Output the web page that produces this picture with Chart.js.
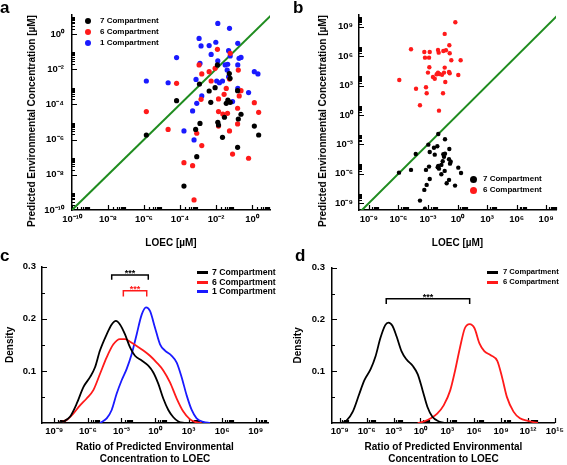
<!DOCTYPE html>
<html>
<head>
<meta charset="utf-8">
<script src="https://cdn.jsdelivr.net/npm/chart.js@4.4.1/dist/chart.umd.min.js"></script>
<style>
  body { margin: 0; background: #fff; font-family: "Liberation Sans", Arial, sans-serif; }
  #fig { position: relative; width: 567px; height: 465px; overflow: hidden; }
  #fig canvas { position: absolute; }
  .txt { position: absolute; font-weight: bold; white-space: nowrap; color: #000; line-height: 1; }
  .letter { font-size: 17px; }
  .ytitle { font-size: 10px; transform: translate(-50%, -50%) rotate(-90deg); }
  .mark { position: absolute; }
</style>
</head>
<body>
<div id="fig">
  <canvas id="cA" width="280" height="255" style="left:0;top:0"></canvas>
  <canvas id="cB" width="287" height="255" style="left:280px;top:0"></canvas>
  <canvas id="cC" width="280" height="210" style="left:0;top:255px"></canvas>
  <canvas id="cD" width="287" height="210" style="left:280px;top:255px"></canvas>

  <div class="txt letter" style="left:0;top:-1px">a</div>
  <div class="txt letter" style="left:293px;top:-1px">b</div>
  <div class="txt letter" style="left:0;top:247px">c</div>
  <div class="txt letter" style="left:295px;top:247px">d</div>

  <div class="txt ytitle" style="left:32px;top:121px">Predicted Environmental Concentration [µM]</div>
  <div class="txt ytitle" style="left:323px;top:121px">Predicted Environmental Concentration [µM]</div>
</div>

<script>
// ---- data (log10 values) ----
// panel a: LOEC vs predicted concentration
const a7X = [-5.87,-4.19,-2.92,-1.92,-1.26,-1.22,-2.38,-2.05,-2.29,-1.34,-1.43,-1.21,-0.8,-2.89,-3.13,-1.9,-1.86,-1.53,-0.76,-0.61,-1.64,-0.8,0.13,0.37,-3.07,-3.78];
const a7Y = [-5.74,-3.79,-2.84,-1.76,-2.25,-2.52,-3.24,-3.05,-3.88,-3.75,-3.94,-3.88,-3.22,-5.08,-5.42,-5.02,-5.17,-4.73,-4.83,-4.56,-5.87,-6.44,-5.23,-5.74,-6.97,-8.64];
const a6X = [-5.87,-4.66,-4.19,-3.78,-3.3,-3.22,-3.07,-2.79,-2.94,-2.79,-2.38,-2.83,-2.27,-2.05,-1.92,-1.86,-1.86,-1.86,-1.62,-1.36,-1.55,-1.43,-1.25,-1.21,-1.25,-1.08,-0.8,-0.8,-0.76,-0.71,-0.61,-0.19,0.13,0.37];
const a6Y = [-4.41,-5.42,-2.8,-7.31,-7.48,-9.43,-5.64,-6.34,-1.76,-2.27,-2.14,-3.71,-2.67,-1.95,-0.87,-3.69,-4.41,-5.23,-4.55,-4.51,-3.43,-3.09,-2.56,-1.1,-5.51,-6.82,-4.22,-5.11,-2.05,-3.52,-3.22,-7.06,-3.9,-4.45];
const a1X = [-5.87,-4.66,-4.19,-3.78,-3.3,-3.22,-3.11,-3.07,-2.94,-2.83,-2.89,-2.79,-2.38,-2.27,-2.01,-1.9,-1.9,-1.96,-1.81,-1.64,-1.49,-1.35,-1.38,-1.3,-1.25,-1.21,-1.3,-1.08,-0.79,-0.79,-0.79,-0.72,-0.61,-0.19,0.13,0.33];
const a1Y = [-2.67,-2.77,-1.34,-5.51,-4.37,-6.02,-2.58,-3.94,-0.25,-0.68,-1.67,-3.52,-0.66,-1.16,-0.47,0.6,-1.53,-2.67,-2.77,-2.67,-1.76,-1.72,-2.05,-0.95,0.32,-1.25,-2.43,-3.84,-0.53,-1.76,-3.09,-1.38,-1.33,-3.33,-2.14,-2.27];

// panel b
const b7X = [-1.95,-1.27,-2.96,-2.39,-2.05,-2.82,-2.31,-4.24,-0.83,-1.44,-1.27,-1.37,-0.86,-0.69,-0.76,-1.5,-1.64,-1.95,-1.88,-2.01,-2.89,-3.2,0.08,0.36,-4.72,-5.94,-1.3,-1.64,-2.82,-0.86,-1.1,-0.25,-3.13,-3.37,-3.81,-3.3];
const b7Y = [-1.94,-2.48,-3.03,-3.34,-3.19,-3.78,-4.05,-3.98,-3.47,-4.01,-3.95,-4.26,-4.52,-4.77,-4.97,-4.72,-5.1,-5.2,-5.48,-5.34,-5.27,-5.61,-5.38,-5.92,-5.61,-5.89,-5.71,-6.05,-6.53,-6.63,-6.97,-7.21,-7.14,-7.65,-8.74,-9.56];
const b6X = [-0.22,-1.3,-0.83,-4.72,-3.37,-2.82,-1.98,-1.91,-1.44,-1.17,-0.79,-3.3,-2.89,-0.63,0.32,-2.86,-1.3,-3.0,-1.98,-1.85,-2.11,-1.37,-0.86,-0.79,-1.57,0.08,-2.49,-2.31,-1.24,-5.91,-4.21,-3.2,-3.13,-1.47,-3.81,-1.88];
const b6Y = [9.46,8.27,7.11,6.7,6.43,6.43,6.63,6.36,6.53,6.6,6.3,5.85,5.85,5.58,5.58,4.87,4.83,4.32,4.32,4.18,4.15,4.32,4.39,4.26,4.11,4.08,3.88,3.7,3.37,3.57,2.68,2.83,2.21,2.21,0.99,0.44];

// 1:1 reference line
const diagLog = [-11, 11];

// panel c: density of log ratio
const c7X = [-8.79,-8.19,-7.6,-7.0,-6.4,-5.81,-5.36,-4.92,-4.32,-3.87,-3.49,-3.13,-2.68,-2.23,-1.79,-1.19,-0.6,-0.15,0.3,0.74,1.19,1.64,2.09,2.68];
const c7Y = [0,0.003,0.012,0.037,0.069,0.088,0.107,0.139,0.17,0.189,0.196,0.189,0.17,0.145,0.129,0.12,0.11,0.097,0.075,0.047,0.025,0.011,0.003,0];
const c6X = [-8.64,-7.89,-7.3,-6.7,-6.11,-5.51,-4.92,-4.32,-3.72,-3.13,-2.68,-2.23,-1.64,-1.04,-0.45,0.15,0.74,1.34,1.94,2.53,3.13,3.72,4.17];
const c6Y = [0,0.006,0.018,0.034,0.047,0.063,0.094,0.126,0.151,0.161,0.161,0.156,0.148,0.139,0.129,0.116,0.101,0.078,0.047,0.022,0.007,0.001,0];
const c1X = [-4.92,-4.32,-3.87,-3.43,-2.98,-2.53,-2.09,-1.64,-1.19,-0.8,-0.45,0,0.45,0.89,1.49,1.94,2.38,2.83,3.28,3.72,4.32,4.92];
const c1Y = [0,0.009,0.025,0.056,0.082,0.104,0.132,0.17,0.208,0.222,0.215,0.183,0.151,0.139,0.129,0.116,0.088,0.053,0.025,0.009,0.002,0];
const cBr7X = [-3.87,-3.87,-0.6,-0.6],  cBr7Y = [0.275,0.284,0.284,0.275];
const cBr6X = [-2.83,-2.83,-0.74,-0.74], cBr6Y = [0.243,0.254,0.254,0.243];

// panel d
const d7X = [-8.82,-8.28,-7.55,-6.83,-6.28,-5.56,-5.01,-4.47,-3.93,-3.57,-3.13,-2.66,-2.12,-1.57,-0.85,-0.3,0.24,0.78,1.33,2.05,2.77];
const d7Y = [0,0.004,0.022,0.056,0.082,0.104,0.129,0.164,0.189,0.194,0.188,0.167,0.139,0.123,0.11,0.094,0.063,0.031,0.012,0.003,0];
const d6X = [-0.3,0.42,1.15,1.87,2.59,3.32,3.86,4.4,4.95,5.49,6.03,6.58,7.12,7.84,8.57,9.11,9.65,10.38,11.1,12.0,13.1];
const d6Y = [0,0.003,0.009,0.018,0.034,0.063,0.101,0.145,0.183,0.191,0.183,0.154,0.139,0.131,0.12,0.088,0.05,0.022,0.009,0.004,0];
const dBrX = [-3.82,-3.82,5.49,5.49], dBrY = [0.23,0.24,0.24,0.23];

// tick labels (exponents) and legend labels
const aTickExp = [-10,-8,-6,-4,-2,0];
const bTickExp = [-9,-6,-3,0,3,6,9];
const cTickExp = [-9,-6,-3,0,3,6,9];
const dTickExp = [-9,-6,-3,0,3,6,9,12,15];
const densTicks = [0.1,0.2,0.3];
const densMinor = [0.05,0.15,0.25];
const names3 = ['7 Compartment','6 Compartment','1 Compartment'];

const BLACK = '#000', RED = '#ff1a1a', BLUE = '#1a1aff', GREEN = '#1f8c1f';

Chart.defaults.font.family = '"Liberation Sans", Arial, sans-serif';
Chart.defaults.font.weight = 'bold';
Chart.defaults.font.size = 9.5;
Chart.defaults.color = '#000';

const SUP = {'-':'⁻','0':'⁰','1':'¹','2':'²','3':'³','4':'⁴','5':'⁵','6':'⁶','7':'⁷','8':'⁸','9':'⁹'};
const powLabel = v => '10' + String(Math.round(Math.log10(v))).split('').map(c => SUP[c]).join('');
const pts = (xs, ys) => xs.map((x, i) => ({ x: Math.pow(10, x), y: Math.pow(10, ys[i]) }));
const curve = (xs, ys) => xs.map((x, i) => ({ x: Math.pow(10, x), y: ys[i] }));

// major tick at each labelled decade, minor ticks 2..9 after it
function logMarks(exps) {
  const out = [];
  exps.forEach(e => {
    out.push({ v: Math.pow(10, e), len: 5 });
    for (let k = 2; k <= 9; k++) out.push({ v: k * Math.pow(10, e), len: 3 });
  });
  return out;
}
const linMarks = densTicks.map(v => ({ v, len: 5 })).concat(densMinor.map(v => ({ v, len: 3 })));

// inward tick marks + significance stars
Chart.register({
  id: 'innerTicks',
  beforeDatasetsDraw(chart, args, opts) {
    const { ctx, chartArea: a } = chart;
    const sx = chart.scales.x, sy = chart.scales.y;
    ctx.save();
    ctx.strokeStyle = '#000';
    ctx.lineWidth = 1.2;
    ctx.beginPath();
    (opts.x || []).forEach(t => {
      const p = Math.round(sx.getPixelForValue(t.v)) + 0.5;
      if (p < a.left || p > a.right + 1) return;
      ctx.moveTo(p, a.bottom); ctx.lineTo(p, a.bottom - t.len);
    });
    (opts.y || []).forEach(t => {
      const p = Math.round(sy.getPixelForValue(t.v)) + 0.5;
      if (p < a.top - 1 || p > a.bottom) return;
      ctx.moveTo(a.left, p); ctx.lineTo(a.left + t.len, p);
    });
    ctx.stroke();
    ctx.textAlign = 'center';
    ctx.textBaseline = 'alphabetic';
    ctx.font = 'bold 9px "Liberation Sans", Arial, sans-serif';
    (opts.stars || []).forEach(s => {
      ctx.fillStyle = s.color;
      const x = sx.getPixelForValue(Math.pow(10, (s.xs[0] + s.xs[s.xs.length - 1]) / 2));
      ctx.fillText('***', x, sy.getPixelForValue(Math.max(...s.ys)) + 1);
    });
    ctx.restore();
  }
});

function logAxis(o) {
  return {
    type: 'logarithmic', min: o.min, max: o.max,
    grid: { display: false, drawTicks: false },
    border: { color: '#000', width: 1.5 },
    afterBuildTicks: s => { s.ticks = o.exps.map(e => ({ value: Math.pow(10, e) })); },
    afterFit: s => { if (o.horiz) s.height = o.fit; else s.width = o.fit; },
    ticks: { autoSkip: false, maxRotation: 0, minRotation: 0, padding: o.pad, callback: v => powLabel(v) },
    title: o.title ? { display: true, text: o.title, padding: o.tpad, font: { size: 10, weight: 'bold', lineHeight: 1.2 } } : { display: false }
  };
}
function densAxis(fit, pad, tpad) {
  return {
    type: 'linear', min: 0, max: 0.3,
    grid: { display: false, drawTicks: false },
    border: { color: '#000', width: 1.5 },
    afterBuildTicks: s => { s.ticks = densTicks.map(v => ({ value: v })); },
    afterFit: s => { s.width = fit; },
    ticks: { padding: pad, callback: v => v.toFixed(1) },
    title: { display: true, text: 'Density', padding: tpad, font: { size: 10, weight: 'bold', lineHeight: 1.2 } }
  };
}
const dots = (data, color, r) => ({ data, backgroundColor: color, borderColor: color, borderWidth: 0, pointRadius: r, pointHoverRadius: r });
const lineSet = (data, color, w) => ({ data, showLine: true, borderColor: color, borderWidth: w, pointRadius: 0, pointHoverRadius: 0, cubicInterpolationMode: 'monotone', fill: false });
const bracket = (xs, ys, color) => ({ data: curve(xs, ys), showLine: true, borderColor: color, borderWidth: 1.5, pointRadius: 0, tension: 0 });
const opts = (pad, ticksCfg, scales) => ({
  responsive: false, animation: false, events: [],
  layout: { padding: pad },
  plugins: { legend: { display: false }, tooltip: { enabled: false }, innerTicks: ticksCfg },
  scales
});

// ---- panel a ----
new Chart(document.getElementById('cA'), {
  type: 'scatter',
  data: { datasets: [
    dots(pts(a7X, a7Y), BLACK, 2.6),
    dots(pts(a6X, a6Y), RED, 2.6),
    dots(pts(a1X, a1Y), BLUE, 2.6),
    lineSet(pts(diagLog, diagLog), GREEN, 2)
  ] },
  options: opts({ top: 15, right: 10, left: 0, bottom: 0 },
    { x: logMarks(aTickExp), y: logMarks(aTickExp) },
    {
      x: logAxis({ min: 1e-10, max: 10, exps: aTickExp, horiz: true, fit: 45, pad: 4, title: 'LOEC [µM]', tpad: { top: 0, bottom: 6 } }),
      y: logAxis({ min: 1e-10, max: 12, exps: aTickExp, fit: 72, pad: 8 })
    })
});

// ---- panel b ----
new Chart(document.getElementById('cB'), {
  type: 'scatter',
  data: { datasets: [
    dots(pts(b7X, b7Y), BLACK, 2.2),
    dots(pts(b6X, b6Y), RED, 2.2),
    lineSet(pts(diagLog, diagLog), GREEN, 2)
  ] },
  options: opts({ top: 15, right: 11, left: 0, bottom: 0 },
    { x: logMarks(bTickExp), y: logMarks(bTickExp) },
    {
      x: logAxis({ min: 1e-10, max: 1e10, exps: bTickExp, horiz: true, fit: 45, pad: 4, title: 'LOEC [µM]', tpad: { top: 0, bottom: 6 } }),
      y: logAxis({ min: Math.pow(10, -9.7), max: Math.pow(10, 10.2), exps: bTickExp, fit: 79, pad: 6 })
    })
});

// ---- panel c ----
const ratioTitle = ['Ratio of Predicted Environmental', 'Concentration to LOEC'];
new Chart(document.getElementById('cC'), {
  type: 'scatter',
  data: { datasets: [
    bracket(cBr7X, cBr7Y, BLACK),
    bracket(cBr6X, cBr6Y, RED),
    lineSet(curve(c7X, c7Y), BLACK, 1.8),
    lineSet(curve(c6X, c6Y), RED, 1.8),
    lineSet(curve(c1X, c1Y), BLUE, 1.8)
  ] },
  options: opts({ top: 10, right: 12, left: 0, bottom: 0 },
    { x: logMarks(cTickExp), y: linMarks,
      stars: [{ xs: cBr7X, ys: cBr7Y, color: BLACK }, { xs: cBr6X, ys: cBr6Y, color: RED }] },
    {
      x: logAxis({ min: Math.pow(10, -10.1), max: Math.pow(10, 10.1), exps: cTickExp, horiz: true, fit: 42, pad: 3, title: ratioTitle, tpad: { top: 0, bottom: 0 } }),
      y: densAxis(42, 6, { top: 4, bottom: 0 })
    })
});

// ---- panel d ----
new Chart(document.getElementById('cD'), {
  type: 'scatter',
  data: { datasets: [
    bracket(dBrX, dBrY, BLACK),
    lineSet(curve(d7X, d7Y), BLACK, 1.8),
    lineSet(curve(d6X, d6Y), RED, 1.8)
  ] },
  options: opts({ top: 10, right: 7, left: 0, bottom: 0 },
    { x: logMarks(dTickExp), y: linMarks, stars: [{ xs: dBrX, ys: dBrY, color: BLACK }] },
    {
      x: logAxis({ min: Math.pow(10, -9.87), max: 1e15, exps: dTickExp, horiz: true, fit: 42, pad: 3, title: ratioTitle, tpad: { top: 0, bottom: 0 } }),
      y: densAxis(52, 7, { top: 12, bottom: 0 })
    })
});

// ---- legends (html) ----
const fig = document.getElementById('fig');
function legend(items) {
  items.forEach(it => {
    const m = document.createElement('div');
    m.className = 'mark';
    if (it.kind === 'dot') {
      Object.assign(m.style, { left: (it.x - it.r) + 'px', top: (it.y - it.r) + 'px', width: 2 * it.r + 'px', height: 2 * it.r + 'px', borderRadius: '50%', background: it.color });
    } else {
      Object.assign(m.style, { left: it.x + 'px', top: (it.y - 1.5) + 'px', width: '11px', height: '3px', background: it.color });
    }
    fig.appendChild(m);
    const t = document.createElement('div');
    t.className = 'txt';
    t.textContent = it.label;
    Object.assign(t.style, { left: it.tx + 'px', top: it.y + 'px', fontSize: it.fs + 'px', transform: 'translateY(-50%)' });
    fig.appendChild(t);
  });
}
legend([
  { kind: 'dot', x: 88, y: 21, r: 3, color: BLACK, label: names3[0], tx: 100, fs: 8 },
  { kind: 'dot', x: 88, y: 32, r: 3, color: RED, label: names3[1], tx: 100, fs: 8 },
  { kind: 'dot', x: 88, y: 43, r: 3, color: BLUE, label: names3[2], tx: 100, fs: 8 },
  { kind: 'dot', x: 473, y: 179, r: 3.5, color: BLACK, label: names3[0], tx: 483, fs: 8 },
  { kind: 'dot', x: 473, y: 190, r: 3.5, color: RED, label: names3[1], tx: 483, fs: 8 },
  { kind: 'line', x: 197, y: 272, color: BLACK, label: names3[0], tx: 212, fs: 8.7 },
  { kind: 'line', x: 197, y: 282, color: RED, label: names3[1], tx: 212, fs: 8.7 },
  { kind: 'line', x: 197, y: 291, color: BLUE, label: names3[2], tx: 212, fs: 8.7 },
  { kind: 'line', x: 487, y: 272, color: BLACK, label: names3[0], tx: 503, fs: 7.6 },
  { kind: 'line', x: 487, y: 282, color: RED, label: names3[1], tx: 503, fs: 7.6 }
]);
</script>
</body>
</html>
